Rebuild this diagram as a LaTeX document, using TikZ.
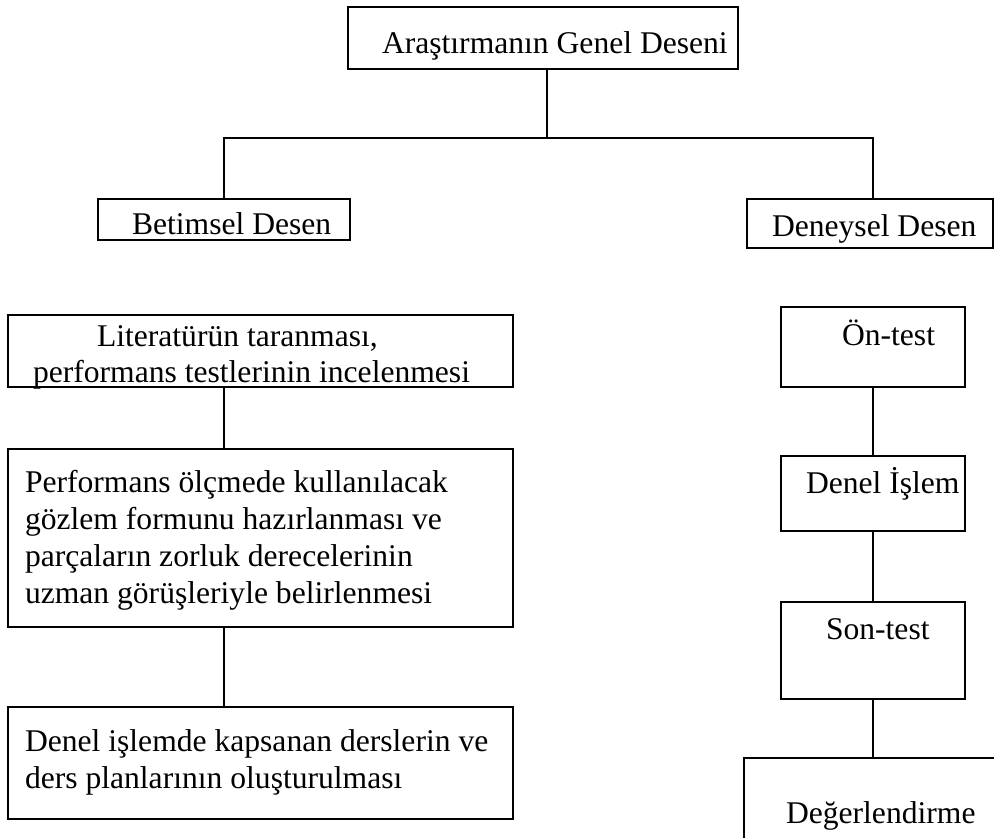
\documentclass[tikz,border=0pt]{standalone}
\usepackage{fontspec}
\setmainfont{Liberation Serif}
\begin{document}
\begin{tikzpicture}[x=1pt,y=-1pt,
  box/.style={draw=black,line width=1.5pt,inner sep=0pt,outer sep=0pt,rectangle},
  txt/.style={inner sep=0pt,outer sep=0pt,anchor=base west,font=\fontsize{31.6}{37}\selectfont},
  conn/.style={draw=black,line width=1.5pt}]
\useasboundingbox (0,0) rectangle (994,838);
\clip (0,0) rectangle (994,838);
% boxes
\node[box,minimum width=390pt,minimum height=62pt] (top) at (543,38) {};
\node[box,minimum width=252pt,minimum height=41pt] (bet) at (224,219.5) {};
\node[box,minimum width=246pt,minimum height=49pt] (den) at (870,223.5) {};
\node[box,minimum width=505pt,minimum height=72pt] (lit) at (260.5,351) {};
\node[box,minimum width=505pt,minimum height=178pt] (perf) at (260.5,538) {};
\node[box,minimum width=505pt,minimum height=112pt] (ders) at (260.5,763) {};
\node[box,minimum width=184pt,minimum height=80pt] (on) at (873,347) {};
\node[box,minimum width=184pt,minimum height=75pt] (islem) at (873,493.5) {};
\node[box,minimum width=184pt,minimum height=97pt] (son) at (873,650.5) {};
\node[box,minimum width=266pt,minimum height=102pt] (deg) at (877,809) {};
% texts
\node[txt] (ttop) at (382,53) {Araştırmanın Genel Deseni};
\node[txt] (tbet) at (132,234) {Betimsel Desen};
\node[txt] (tden) at (772,236) {Deneysel Desen};
\node[txt] (tlit1) at (97,346) {Literatürün taranması,};
\node[txt] (tlit2) at (33,382) {performans testlerinin incelenmesi};
\node[txt] (tperf1) at (25,492) {Performans ölçmede kullanılacak};
\node[txt] (tperf2) at (25,529) {gözlem formunu hazırlanması ve};
\node[txt] (tperf3) at (25,566) {parçaların zorluk derecelerinin};
\node[txt] (tperf4) at (25,603) {uzman görüşleriyle belirlenmesi};
\node[txt] (tders1) at (25,751) {Denel işlemde kapsanan derslerin ve};
\node[txt] (tders2) at (25,788) {ders planlarının oluşturulması};
\node[txt] (ton) at (842,345) {Ön-test};
\node[txt] (tislem) at (806,493) {Denel İşlem};
\node[txt] (tson) at (826,639) {Son-test};
\node[txt] (tdeg) at (786,823) {Değerlendirme};
% connectors
\coordinate (jl) at (224,138);
\coordinate (jm) at (547,138);
\coordinate (jr) at (873,138);
\coordinate (lx) at (224,0);
\coordinate (tl) at (488,138);
\coordinate (tr) at (609,138);
\draw[conn] (top.south -| jm) -- (jm);
\draw[conn] (bet.north -| jl) -- (jl) -- (jr) -- (den.north -| jr);
\draw[draw=black,line width=2.6pt] (tl) -- (tr);
\draw[conn] (lit.south -| lx) -- (perf.north -| lx);
\draw[conn] (perf.south -| lx) -- (ders.north -| lx);
\draw[conn] (on.south) -- (islem.north);
\draw[conn] (islem.south) -- (son.north);
\draw[conn] (son.south) -- (deg.north -| son.south);
\end{tikzpicture}
\end{document}
